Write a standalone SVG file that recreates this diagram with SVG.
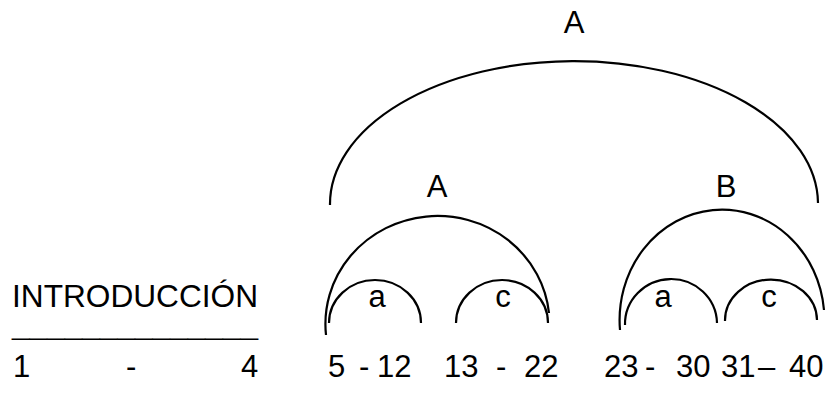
<svg xmlns="http://www.w3.org/2000/svg" width="834" height="394" viewBox="0 0 834 394">
<style>
.t{font-family:"Liberation Sans",Arial,sans-serif;font-size:31px;fill:#000}
.m{text-anchor:middle}
.arc{fill:none;stroke:#000;stroke-width:2.2;stroke-linecap:butt}
</style>
<rect width="834" height="394" fill="#fff"/>
<g id="connectors">
<path id="arc-top" class="arc" d="M 330 205 A 244 143 0 0 1 818 203"/>
<path id="arc-A" class="arc" d="M 326 335 A 112 108 0 0 1 549 313"/>
<path id="arc-B" class="arc" d="M 620 330 A 102 110 0 0 1 824 310"/>
<path id="arc-Aa" class="arc" d="M 329 323 A 46 43 0 0 1 421 323"/>
<path id="arc-Ac" class="arc" d="M 456 323 A 46 43 0 0 1 548 323"/>
<path id="arc-Ba" class="arc" d="M 625 325 A 46 45 0 0 1 717 323"/>
<path id="arc-Bc" class="arc" d="M 725 321 A 46 41 0 0 1 817 320"/>
</g>
<g id="node-top"><text class="t m" x="574" y="33">A</text></g>
<g id="node-A"><text class="t m" x="437" y="197">A</text></g>
<g id="node-B"><text class="t m" x="726" y="197">B</text></g>
<g id="node-Aa"><text class="t m" x="377" y="307">a</text></g>
<g id="node-Ac"><text class="t m" x="503" y="307">c</text></g>
<g id="node-Ba"><text class="t m" x="663" y="307">a</text></g>
<g id="node-Bc"><text class="t m" x="769" y="307">c</text></g>
<g id="intro">
<text class="t" x="12" y="307" textLength="246" lengthAdjust="spacingAndGlyphs">INTRODUCCIÓN</text>
<text class="t" x="12" y="335" style="font-size:23px" textLength="246" lengthAdjust="spacingAndGlyphs">______________</text>
<text class="t" y="377"><tspan x="13">1</tspan><tspan x="126">-</tspan><tspan x="241">4</tspan></text>
</g>
<g id="numbers">
<text class="t" y="377"><tspan x="328">5</tspan><tspan x="359">-</tspan><tspan x="377">12</tspan><tspan x="444">13</tspan><tspan x="496">-</tspan><tspan x="524">22</tspan><tspan x="604">23</tspan><tspan x="645">-</tspan><tspan x="676">30</tspan><tspan x="721">31</tspan><tspan x="758">–</tspan><tspan x="789">40</tspan></text>
</g>
</svg>
